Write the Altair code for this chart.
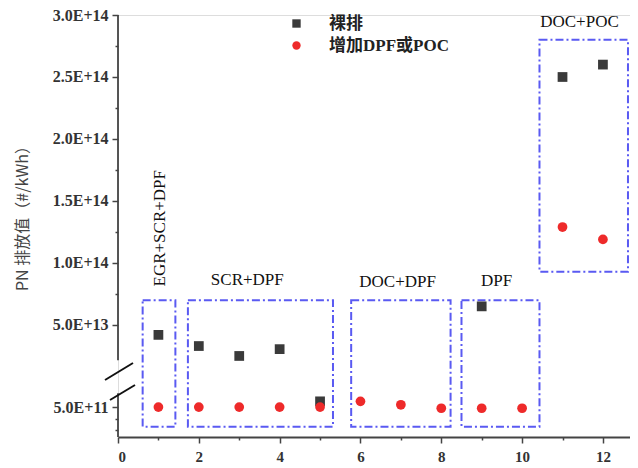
import altair as alt
import pandas as pd

# ---- data ----
series_names = ["裸排", "增加DPF或POC"]
bare_x = [1, 2, 3, 4, 5, 9, 11, 12]
bare_y = [4.2e13, 3.3e13, 2.5e13, 3.05e13, 5.5e11, 6.5e13, 2.5e14, 2.6e14]
after_x = [1, 2, 3, 4, 5, 6, 7, 8, 9, 10, 11, 12]
after_y = [5.0e11, 5.0e11, 5.0e11, 5.0e11, 5.0e11, 5.5e11, 5.2e11, 4.9e11,
           4.9e11, 4.9e11, 1.29e14, 1.19e14]

group_names = ["EGR+SCR+DPF", "SCR+DPF", "DOC+DPF", "DPF", "DOC+POC"]
group_x0 = [0.61, 1.73, 5.77, 8.5, 10.43]
group_x1 = [1.42, 5.32, 8.23, 10.43, 12.62]
group_y0 = [3.3e11, 3.3e11, 3.3e11, 3.3e11, 9.3e13]
group_y1 = [7.0e13, 7.0e13, 7.0e13, 7.0e13, 2.8e14]
label_x = [1.05, 3.2, 6.92, 9.37, 11.42]
label_y = [1.28e14, 8.63e13, 8.5e13, 8.55e13, 2.94e14]
label_angle = [270, 0, 0, 0, 0]

y_tick_values = [3.0e11, 4.0e11, 5.0e11, 5.0e13, 7.5e13, 1.0e14, 1.25e14, 1.5e14,
                 1.75e14, 2.0e14, 2.25e14, 2.5e14, 2.75e14, 3.0e14]
y_major_values = [5.0e11, 5.0e13, 1.0e14, 1.5e14, 2.0e14, 2.5e14, 3.0e14]
y_major_labels = ["5.0E+11", "5.0E+13", "1.0E+14", "1.5E+14", "2.0E+14", "2.5E+14", "3.0E+14"]
x_tick_values = list(range(0, 13))

# broken y axis: lower part and upper part
y_domain = [2.4e11, 6.2e11, 2.4e13, 3.0e14]
W, H = 512, 422
y_range = [H, 378.3, 342.2, 0]
axis_segments_lo = [2.4e11, 2.2e13]
axis_segments_hi = [6.2e11, 3.0e14]

pts = pd.DataFrame({
    "x": bare_x + after_x,
    "y": bare_y + after_y,
    "series": [series_names[0]] * len(bare_x) + [series_names[1]] * len(after_x),
})
boxes = pd.DataFrame({"name": group_names, "x0": group_x0, "x1": group_x1,
                      "y0": group_y0, "y1": group_y1})
labels = pd.DataFrame({"name": group_names, "x": label_x, "y": label_y, "angle": label_angle})
segs = pd.DataFrame({"lo": axis_segments_lo, "hi": axis_segments_hi})

serif = "Liberation Serif, Noto Sans CJK SC"

label_expr = ""
for v, s in zip(y_major_values, y_major_labels):
    label_expr += f"abs(datum.value - {v:.6g}) < {v * 1e-6:.6g} ? '{s}' : "
label_expr += "''"
major_test = " || ".join(f"abs(datum.value - {v:.6g}) < {v * 1e-6:.6g}" for v in y_major_values)

xscale = alt.Scale(domain=[0, 12.67], nice=False, zero=False)
yscale = alt.Scale(domain=y_domain, range=y_range, nice=False, zero=False)

x_axis = alt.Axis(values=x_tick_values, tickCount=50, title=None, grid=False, labelOverlap=False,
                  labelExpr="datum.value % 2 == 0 ? format(datum.value, 'd') : ''",
                  tickSize={"condition": {"test": "datum.value % 2 == 0", "value": 6}, "value": 3},
                  labelFont="Liberation Serif", labelFontWeight="bold", labelFontSize=15,
                  labelColor="#333", labelPadding=6, domainColor="#444", domainWidth=1.8,
                  tickColor="#444", tickWidth=1.5)
y_axis = alt.Axis(values=y_tick_values, tickCount=50, title="PN 排放值（#/kWh）", grid=False,
                  domain=False, labelExpr=label_expr, labelOverlap=False,
                  tickSize={"condition": {"test": major_test, "value": 6}, "value": 3},
                  labelFont="Liberation Serif", labelFontWeight="bold", labelFontSize=16,
                  labelColor="#333", labelPadding=4, tickColor="#444", tickWidth=1.5,
                  titleFont="Noto Sans CJK SC", titleFontSize=16, titleFontWeight="normal",
                  titleColor="#444", titleAngle=270, titleX=-96, titleY=199,
                  titleAlign="center", titleBaseline="middle")

legend = alt.Legend(title=None, orient="none", legendX=170, legendY=0,
                    labelFont=serif, labelFontSize=17, labelFontWeight="bold",
                    labelColor="#222", symbolSize=70, rowPadding=4, labelOffset=24)

base_pts = alt.Chart(pts).mark_point(filled=True, size=95, opacity=1).encode(
    x=alt.X("x:Q", scale=xscale, axis=x_axis),
    y=alt.Y("y:Q", scale=yscale, axis=y_axis),
    shape=alt.Shape("series:N", scale=alt.Scale(domain=series_names, range=["square", "circle"]),
                    legend=legend),
    color=alt.Color("series:N", scale=alt.Scale(domain=series_names, range=["#3a3a3a", "#ee2a2a"]),
                    legend=legend),
    order=alt.Order("series:N", sort="descending"),
)

box_layer = alt.Chart(boxes).mark_rect(fill=None, filled=False, stroke="#5a5af2", strokeWidth=2,
                                        strokeDash=[8, 3, 2, 3]).encode(
    x=alt.X("x0:Q", scale=xscale), x2="x1:Q",
    y=alt.Y("y0:Q", scale=yscale), y2="y1:Q",
)

label_layer = alt.Chart(labels).mark_text(font="Liberation Serif", fontSize=17, color="#111",
                                           align="center", baseline="middle").encode(
    x=alt.X("x:Q", scale=xscale), y=alt.Y("y:Q", scale=yscale),
    text="name:N", angle=alt.Angle("angle:Q", scale=None),
)

axis_line = alt.Chart(segs).mark_rule(color="#444", strokeWidth=1.8).encode(
    x=alt.value(0), y=alt.Y("lo:Q", scale=yscale), y2="hi:Q",
)

slash1 = alt.Chart(segs.head(1)).mark_rule(color="#111", strokeWidth=2).encode(
    x=alt.value(-13), x2=alt.value(15), y=alt.value(365), y2=alt.value(348))
slash2 = alt.Chart(segs.head(1)).mark_rule(color="#111", strokeWidth=2).encode(
    x=alt.value(-8), x2=alt.value(17), y=alt.value(385), y2=alt.value(370))

chart = alt.layer(box_layer, axis_line, slash1, slash2, label_layer, base_pts).properties(
    width=W, height=H,
    padding={"left": 110, "top": 7, "right": 0, "bottom": 26},
    autosize=alt.AutoSizeParams(type="none"),
).configure_view(stroke=None).configure(background="white")

chart.save("out.html", embed_options={"renderer": "svg", "actions": False})
